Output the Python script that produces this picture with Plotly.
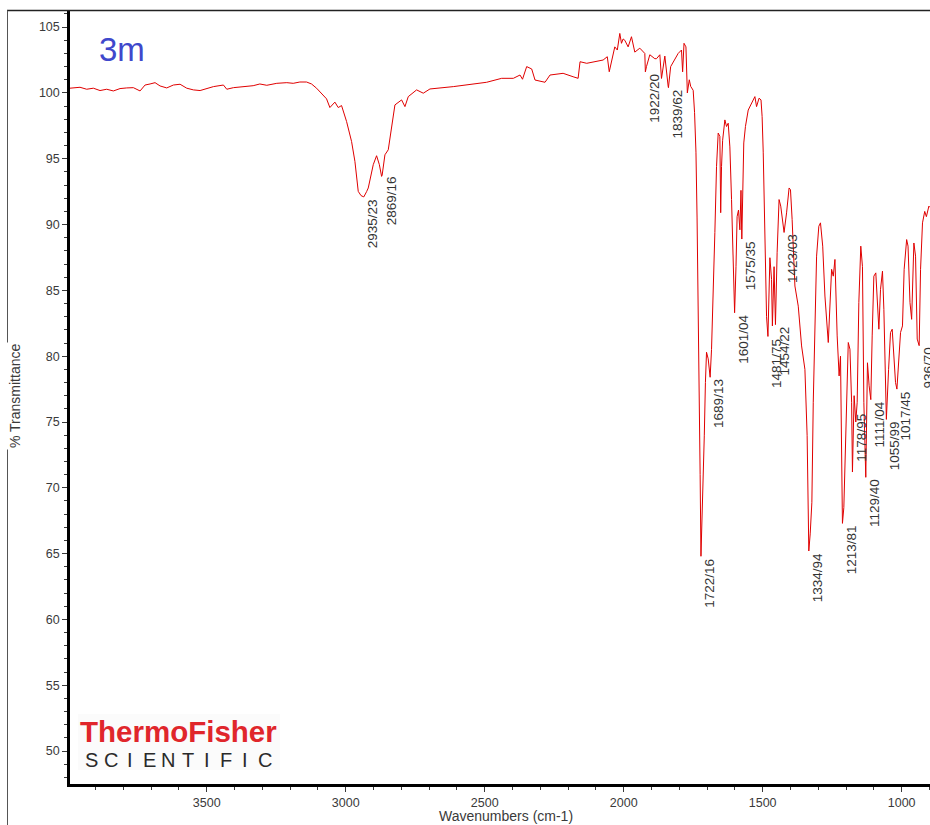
import plotly.graph_objects as go

# ---------------- data ----------------
wavenumbers = [
    3992, 3956, 3932, 3908, 3884, 3860, 3836, 3812, 3788, 3764, 3740, 3722, 3704, 3686,
    3668, 3644, 3620, 3596, 3572, 3548, 3524, 3500, 3476, 3440, 3428, 3404, 3368, 3333,
    3309, 3284, 3248, 3212, 3189, 3165, 3141, 3123, 3105, 3087, 3069, 3057, 3039, 3027,
    3015, 2997, 2979, 2967, 2955, 2945, 2937, 2935, 2925, 2919, 2901, 2889, 2879, 2871,
    2869, 2859, 2847, 2835, 2823, 2799, 2787, 2775, 2745, 2721, 2697, 2613, 2553, 2493,
    2439, 2397, 2373, 2364, 2349, 2331, 2319, 2283, 2265, 2218, 2182, 2164, 2157, 2133,
    2074, 2059, 2052, 2038, 2032, 2023, 2014, 2008, 2002, 1996, 1984, 1972, 1960, 1942,
    1924, 1922, 1918, 1906, 1888, 1882, 1870, 1864, 1852, 1840, 1839, 1831, 1816, 1804,
    1792, 1788, 1783, 1776, 1771, 1764, 1759, 1750, 1745, 1740, 1736, 1732, 1728, 1725,
    1722, 1718, 1714, 1710, 1706, 1702, 1696, 1689, 1684, 1678, 1672, 1666, 1660, 1654,
    1651, 1648, 1644, 1636, 1630, 1624, 1618, 1612, 1606, 1601, 1596, 1592, 1587, 1582,
    1578, 1575, 1568, 1562, 1552, 1540, 1528, 1522, 1513, 1506, 1502, 1498, 1492, 1486,
    1481, 1477, 1474, 1468, 1465, 1459, 1454, 1448, 1441, 1435, 1429, 1423, 1414, 1405,
    1400, 1394, 1384, 1372, 1360, 1348, 1340, 1336, 1334, 1329, 1323, 1318, 1312, 1306,
    1298, 1292, 1284, 1276, 1264, 1258, 1252, 1246, 1240, 1232, 1225, 1220, 1217, 1213,
    1208, 1201, 1192, 1186, 1180, 1177, 1171, 1165, 1160, 1154, 1147, 1141, 1136, 1129,
    1123, 1117, 1111, 1106, 1100, 1093, 1087, 1082, 1076, 1069, 1064, 1058, 1055, 1047,
    1040, 1034, 1028, 1022, 1017, 1010, 1004, 997, 991, 982, 977, 970, 964, 956,
    950, 944, 937, 932, 925, 917, 911, 902, 898,
]
transmittance = [
    100.36, 100.43, 100.28, 100.36, 100.18, 100.28, 100.15, 100.33, 100.38, 100.40, 100.15, 100.60, 100.68, 100.78,
    100.53, 100.38, 100.60, 100.66, 100.36, 100.23, 100.18, 100.36, 100.48, 100.60, 100.28, 100.40, 100.48, 100.55,
    100.68, 100.58, 100.73, 100.78, 100.73, 100.83, 100.83, 100.68, 100.36, 99.98, 99.55, 98.89, 99.30, 98.89,
    99.04, 97.83, 96.31, 94.80, 92.52, 92.20, 92.14, 92.10, 92.50, 92.78, 94.55, 95.23, 94.55, 93.66,
    93.75, 95.30, 95.68, 97.58, 99.09, 99.47, 98.96, 99.72, 100.23, 99.98, 100.30, 100.48, 100.66, 100.81,
    101.11, 101.11, 101.36, 101.04, 102.00, 101.82, 100.98, 100.81, 101.36, 101.49, 101.23, 101.11, 102.37, 102.25,
    102.50, 102.75, 101.61, 102.88, 103.50, 103.26, 104.52, 103.77, 104.10, 104.00, 103.50, 104.27, 103.10, 103.40,
    103.00, 101.60, 102.00, 102.90, 102.60, 102.60, 102.90, 101.10, 102.80, 100.50, 100.40, 102.00, 102.50, 103.00,
    103.26, 101.60, 103.77, 103.50, 100.00, 101.00, 100.50, 100.20, 98.50, 95.50, 90.50, 84.50, 77.00, 71.00,
    64.80, 68.00, 69.40, 74.00, 78.00, 80.30, 79.80, 78.40, 80.50, 84.30, 89.40, 94.40, 96.95, 96.70,
    90.90, 94.40, 96.40, 97.95, 97.45, 97.70, 95.90, 91.90, 86.80, 83.30, 86.80, 90.60, 91.10, 89.60,
    92.60, 88.90, 96.20, 97.45, 98.70, 99.20, 99.72, 98.96, 99.60, 99.47, 98.20, 95.50, 89.10, 83.00,
    81.50, 85.50, 87.48, 85.83, 82.30, 86.80, 82.40, 87.86, 91.90, 91.40, 90.38, 89.40, 90.89, 92.78,
    92.65, 90.38, 85.33, 83.80, 80.78, 79.00, 73.96, 68.50, 65.20, 66.50, 68.90, 76.50, 82.80, 87.60,
    89.87, 90.13, 88.36, 84.57, 81.04, 84.07, 86.60, 86.08, 87.35, 81.54, 78.50, 80.00, 74.00, 67.30,
    68.50, 74.00, 81.04, 80.53, 76.50, 71.20, 77.00, 75.00, 76.50, 84.07, 88.36, 86.80, 76.50, 70.80,
    79.50, 77.75, 76.70, 81.54, 86.08, 86.33, 83.56, 82.05, 85.08, 86.46, 83.56, 77.75, 75.20, 79.00,
    81.80, 82.05, 80.00, 78.00, 77.50, 80.00, 81.80, 82.30, 86.60, 88.86, 88.36, 84.07, 82.80, 88.60,
    87.60, 81.30, 80.80, 86.60, 90.13, 91.00, 90.60, 91.40, 91.30,
]

peak_wn = [2935, 2869, 1922, 1839, 1722, 1689, 1601, 1575, 1481, 1454, 1423,
           1334, 1213, 1178, 1129, 1111, 1055, 1017, 936]
peak_text = ["2935/23", "2869/16", "1922/20", "1839/62", "1722/16", "1689/13",
             "1601/04", "1575/35", "1481/75", "1454/22", "1423/03", "1334/94",
             "1213/81", "1178/95", "1129/40", "1111/04", "1055/99", "1017/45", "936/70"]
peak_label_y = [92.1, 93.8, 101.6, 100.4, 64.8, 78.4, 83.3, 88.9, 81.5, 82.4, 89.4,
                65.2, 67.3, 75.8, 70.8, 76.7, 75.2, 77.5, 80.8]

x_tickvals = [3500, 3000, 2500, 2000, 1500, 1000]
x_ticktext = ["3500", "3000", "2500", "2000", "1500", "1000"]
y_tickvals = [50, 55, 60, 65, 70, 75, 80, 85, 90, 95, 100, 105]
y_ticktext = ["50", "55", "60", "65", "70", "75", "80", "85", "90", "95", "100", "105"]

sample_label = "3m"
x_title = "Wavenumbers (cm-1)"
y_title = "% Transmittance"
logo_top = "ThermoFisher"
logo_bottom = list("SCIENTIFIC")

# ---------------- layout helpers (pixel -> paper) ----------------
W, H = 930, 825
L, R, T, B = 70, 0, 10, 41
PW, PH = W - L - R, H - T - B


def fx(px):
    return (px - L) / PW


def fy(py):
    return (H - B - py) / PH


TICK_FONT = dict(family="Liberation Sans, Arial, sans-serif", size=12.5, color="#3a3a3a")
TITLE_FONT = dict(family="Liberation Sans, Arial, sans-serif", size=14, color="#3a3a3a")

fig = go.Figure()
fig.add_trace(go.Scatter(
    x=wavenumbers, y=transmittance, mode="lines",
    line=dict(color="#e00000", width=1), hoverinfo="skip", showlegend=False,
))

annotations = []
for wn, txt, ty in zip(peak_wn, peak_text, peak_label_y):
    annotations.append(dict(
        x=wn, y=ty, xref="x", yref="y", text=txt, showarrow=False,
        textangle=-90, xanchor="center", yanchor="top", xshift=9,
        font=dict(family="Liberation Sans, Arial, sans-serif", size=13.5, color="#333333"),
    ))

annotations.append(dict(
    x=fx(121.5), y=fy(49.5), xref="paper", yref="paper", text=sample_label,
    showarrow=False, xanchor="center", yanchor="middle",
    font=dict(family="Liberation Sans, Arial, sans-serif", size=33, color="#3f48cc"),
))
annotations.append(dict(
    x=fx(506), y=fy(816), xref="paper", yref="paper", text=x_title,
    showarrow=False, xanchor="center", yanchor="middle", font=TITLE_FONT,
))
annotations.append(dict(
    x=fx(15), y=fy(396), xref="paper", yref="paper", text=y_title,
    showarrow=False, xanchor="center", yanchor="middle", textangle=-90,
    bgcolor="white", font=TITLE_FONT,
))
annotations.append(dict(
    x=fx(178.5), y=fy(731), xref="paper", yref="paper", text="<b>" + logo_top + "</b>",
    showarrow=False, xanchor="center", yanchor="middle",
    font=dict(family="Liberation Sans, Arial, sans-serif", size=29.5, color="#e0262b"),
))
for i, ch in enumerate(logo_bottom):
    annotations.append(dict(
        x=fx(91.3 + i * 19.27), y=fy(759.5), xref="paper", yref="paper", text=ch,
        showarrow=False, xanchor="center", yanchor="middle",
        font=dict(family="Liberation Sans, Arial, sans-serif", size=20, color="#2a2a2a"),
    ))

shapes = [
    # faint logo background
    dict(type="rect", xref="paper", yref="paper", x0=fx(78), x1=fx(280), y0=fy(770), y1=fy(714),
         fillcolor="rgba(240,240,240,0.25)", line=dict(width=0), layer="below"),
    # outer frame: top and left
    dict(type="line", xref="paper", yref="paper", x0=fx(7), x1=fx(931), y0=fy(10.5), y1=fy(10.5),
         line=dict(color="#222222", width=1.5)),
    dict(type="line", xref="paper", yref="paper", x0=fx(7.5), x1=fx(7.5), y0=fy(10.5), y1=fy(830),
         line=dict(color="#555555", width=1)),
]

fig.update_layout(
    width=W, height=H, autosize=False,
    margin=dict(l=L, r=R, t=T, b=B, pad=0),
    paper_bgcolor="white", plot_bgcolor="white",
    annotations=annotations, shapes=shapes,
    xaxis=dict(
        range=[3992, 898], tickmode="array", tickvals=x_tickvals, ticktext=x_ticktext,
        showgrid=False, zeroline=False, showline=True, linecolor="black", linewidth=2.5,
        ticks="outside", ticklen=5, tickwidth=1, tickcolor="#3a3a3a", tickfont=TICK_FONT,
        minor=dict(dtick=100, tick0=0, ticks="outside", ticklen=3, tickwidth=1,
                   tickcolor="#3a3a3a", showgrid=False),
    ),
    yaxis=dict(
        range=[47.5, 106.3], tickmode="array", tickvals=y_tickvals, ticktext=y_ticktext,
        showgrid=False, zeroline=False, showline=True, linecolor="black", linewidth=2.5,
        ticks="outside", ticklen=5, tickwidth=1, tickcolor="#3a3a3a", tickfont=TICK_FONT,
        minor=dict(dtick=1, tick0=0, ticks="outside", ticklen=3, tickwidth=1,
                   tickcolor="#3a3a3a", showgrid=False),
    ),
)

fig.write_html(
    "out.html",
    config={"displayModeBar": False},
    post_script="document.body.style.margin='0';document.body.style.overflow='hidden';",
)
